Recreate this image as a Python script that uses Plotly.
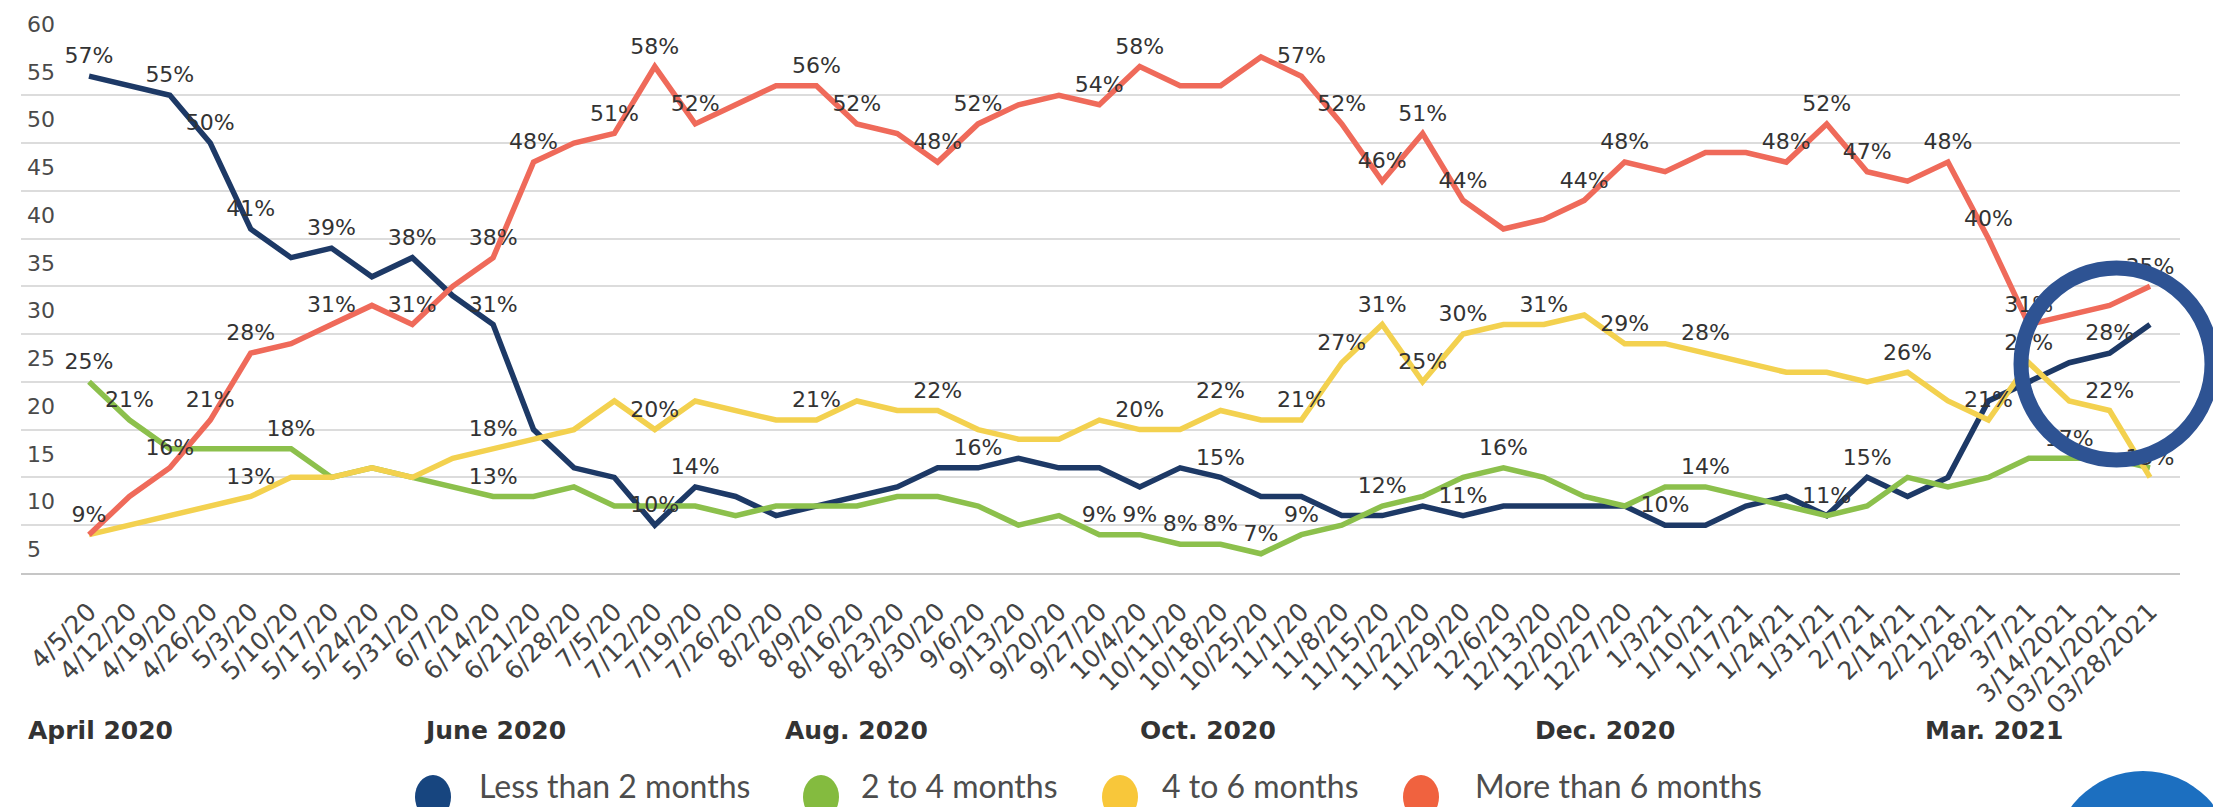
import plotly.graph_objects as go

# ---------------- data ----------------
weeks = ["4/5/20", "4/12/20", "4/19/20", "4/26/20", "5/3/20", "5/10/20", "5/17/20", "5/24/20",
         "5/31/20", "6/7/20", "6/14/20", "6/21/20", "6/28/20", "7/5/20", "7/12/20", "7/19/20",
         "7/26/20", "8/2/20", "8/9/20", "8/16/20", "8/23/20", "8/30/20", "9/6/20", "9/13/20",
         "9/20/20", "9/27/20", "10/4/20", "10/11/20", "10/18/20", "10/25/20", "11/1/20", "11/8/20",
         "11/15/20", "11/22/20", "11/29/20", "12/6/20", "12/13/20", "12/20/20", "12/27/20", "1/3/21",
         "1/10/21", "1/17/21", "1/24/21", "1/31/21", "2/7/21", "2/14/21", "2/21/21", "2/28/21",
         "3/7/21", "3/14/2021", "03/21/2021", "03/28/2021"]

less_than_2 = [57, 56, 55, 50, 41, 38, 39, 36, 38, 34, 31, 20, 16, 15, 10, 14, 13, 11, 12, 13,
               14, 16, 16, 17, 16, 16, 14, 16, 15, 13, 13, 11, 11, 12, 11, 12, 12, 12, 12, 10,
               10, 12, 13, 11, 15, 13, 15, 23, 25, 27, 28, 31]
two_to_4 = [25, 21, 18, 18, 18, 18, 15, 16, 15, 14, 13, 13, 14, 12, 12, 12, 11, 12, 12, 12,
            13, 13, 12, 10, 11, 9, 9, 8, 8, 7, 9, 10, 12, 13, 15, 16, 15, 13, 12, 14,
            14, 13, 12, 11, 12, 15, 14, 15, 17, 17, 17, 16]
four_to_6 = [9, 10, 11, 12, 13, 15, 15, 16, 15, 17, 18, 19, 20, 23, 20, 23, 22, 21, 21, 23,
             22, 22, 20, 19, 19, 21, 20, 20, 22, 21, 21, 27, 31, 25, 30, 31, 31, 32, 29, 29,
             28, 27, 26, 26, 25, 26, 23, 21, 27, 23, 22, 15]
more_than_6 = [9, 13, 16, 21, 28, 29, 31, 33, 31, 35, 38, 48, 50, 51, 58, 52, 54, 56, 56, 52,
               51, 48, 52, 54, 55, 54, 58, 56, 56, 59, 57, 52, 46, 51, 44, 41, 42, 44, 48, 47,
               49, 49, 48, 52, 47, 46, 48, 40, 31, 32, 33, 35]

# indices of the points that carry a value label
less_than_2_labels = [0, 2, 3, 4, 6, 8, 10, 14, 15, 22, 28, 34, 39, 43, 44, 50]
two_to_4_labels = [0, 1, 5, 10, 25, 26, 27, 28, 29, 30, 32, 35, 40, 49]
four_to_6_labels = [4, 10, 14, 18, 21, 26, 28, 30, 31, 32, 33, 34, 36, 38, 40, 45, 47, 48, 50, 51]
more_than_6_labels = [0, 2, 3, 4, 6, 8, 10, 11, 13, 14, 15, 18, 19, 21, 22, 25, 26, 30, 31, 32,
                      33, 34, 37, 38, 42, 43, 44, 46, 47, 48, 51]

series_names = ["Less than 2 months", "2 to 4 months", "4 to 6 months", "More than 6 months"]
y_ticks = [5, 10, 15, 20, 25, 30, 35, 40, 45, 50, 55, 60]
period_labels = ["April 2020", "June 2020", "Aug. 2020", "Oct. 2020", "Dec. 2020", "Mar. 2021"]

# ---------------- styling ----------------
W, H = 2221, 807
L, R, T, B = 13, 2172, 39, 565
line_colors = ["#1d3966", "#8cc04c", "#f3d14f", "#ef6a5a"]
legend_colors = ["#17457f", "#84bb3f", "#f8c73a", "#f0623f"]
period_px = [18, 414, 775, 1130, 1525, 1915]
legend_circle_px = [425, 813, 1112, 1413]
legend_text_px = [469, 851, 1152, 1465]


def px_x(p):
    return (p - L) / (R - L)


def px_y(p):
    return (B - p) / (B - T)


values = [less_than_2, two_to_4, four_to_6, more_than_6]
labels = [less_than_2_labels, two_to_4_labels, four_to_6_labels, more_than_6_labels]

fig = go.Figure()
for name, vals, col in zip(series_names, values, line_colors):
    fig.add_trace(go.Scatter(x=weeks, y=vals, mode="lines", name=name,
                             line=dict(color=col, width=5.5), hoverinfo="skip",
                             showlegend=False))
for name, vals, idx in zip(series_names, values, labels):
    fig.add_trace(go.Scatter(
        x=[weeks[i] for i in idx], y=[vals[i] for i in idx],
        text=[f"{vals[i]}%" for i in idx], mode="markers+text",
        marker=dict(size=10, opacity=0), textposition="top center", cliponaxis=False,
        textfont=dict(family="DejaVu Sans", size=22, color="#333333"),
        hoverinfo="skip", showlegend=False, name=name + " labels"))

shapes = []
# highlight ellipse around the latest weeks
shapes.append(dict(type="circle", xref="paper", yref="paper",
                   x0=px_x(2013), x1=px_x(2204), y0=px_y(452), y1=px_y(260),
                   line=dict(color="#2e5393", width=15), layer="above"))
# corner badge (partly outside the page)
shapes.append(dict(type="circle", xref="paper", yref="paper",
                   x0=px_x(2045), x1=px_x(2225), y0=px_y(943), y1=px_y(763),
                   fillcolor="#1c6fc0", line=dict(width=0), layer="above"))

annotations = []
for txt, p in zip(period_labels, period_px):
    annotations.append(dict(text=txt, xref="paper", yref="paper", x=px_x(p), y=px_y(722),
                            xanchor="left", yanchor="middle", showarrow=False,
                            font=dict(family="DejaVu Sans", size=25, color="#333333", weight="bold")))
for name, col, cx, tx in zip(series_names, legend_colors, legend_circle_px, legend_text_px):
    shapes.append(dict(type="circle", xref="paper", yref="paper",
                       x0=px_x(cx - 18), x1=px_x(cx + 18), y0=px_y(811), y1=px_y(767),
                       fillcolor=col, line=dict(width=0)))
    annotations.append(dict(text=name, xref="paper", yref="paper", x=px_x(tx), y=px_y(777),
                            xanchor="left", yanchor="middle", showarrow=False,
                            font=dict(family="Lato", size=32, color="#4d4d4d")))

fig.update_layout(
    width=W, height=H,
    margin=dict(l=L, r=W - R, t=T, b=H - B, pad=0, autoexpand=False),
    paper_bgcolor="white", plot_bgcolor="white",
    showlegend=False,
    shapes=shapes, annotations=annotations,
    xaxis=dict(type="category", range=[-1.683, 51.742], tickmode="array",
               tickvals=weeks, ticktext=weeks, tickangle=-45, automargin=False,
               tickfont=dict(family="DejaVu Sans", size=25, color="#444444"),
               showgrid=False, showline=True, linecolor="#c6c6c6", linewidth=2,
               ticks="", ticklabelstandoff=12, fixedrange=True),
    yaxis=dict(range=[4.99, 60.05], tickmode="array", tickvals=y_ticks, automargin=False,
               ticklabelposition="inside top", ticklabeloverflow="allow",
               ticklabelstandoff=3, ticklabelshift=-8,
               tickfont=dict(family="DejaVu Sans", size=22, color="#4a4a4a"),
               showgrid=True, gridcolor="#dcdcdc", gridwidth=2,
               zeroline=False, showline=False, ticks="", fixedrange=True),
)

fig.write_html("out.html")
